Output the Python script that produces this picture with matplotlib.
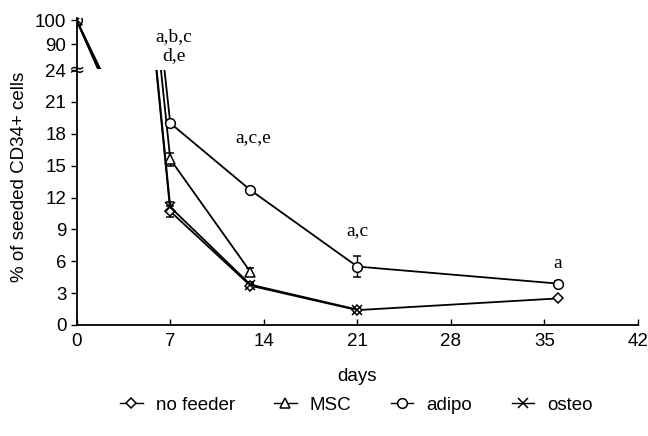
import matplotlib.pyplot as plt
from matplotlib.lines import Line2D

plt.rcParams['font.family'] = ['Liberation Sans', 'DejaVu Sans']

days = [0, 7, 13, 21, 36]
no_feeder = [100, 10.7, 3.7, 1.4, 2.5]
no_feeder_err = [0, 0.5, 0.2, 0.2, 0.1]
msc = [100, 15.6, 5.0]
msc_err = [0, 0.6, 0.4]
adipo = [100, 19.0, 12.7, 5.5, 3.9]
adipo_err = [0, 0.3, 0.2, 1.0, 0.2]
osteo = [100, 11.1, 3.8, 1.45]
osteo_err = [0, 0.5, 0.2, 0.1]

labels = ['no feeder', 'MSC', 'adipo', 'osteo']
markers = ['D', '^', 'o', 'x']
msizes = [5, 7, 7, 7]

series = [(no_feeder, no_feeder_err), (msc, msc_err), (adipo, adipo_err), (osteo, osteo_err)]

# significance letters: (day, y, text)
notes_low = [(13.2, 17.6, 'a,c,e'), (21, 8.9, 'a,c'), (36, 5.8, 'a')]
notes_top = [(7.3, 93.2, 'a,b,c'), (7.3, 85.2, 'd,e')]

fig = plt.figure(figsize=(6.48, 4.36), dpi=100)
ax = fig.add_axes([0.1184, 0.2546, 0.866, 0.5848])
ax_top = fig.add_axes([0.1184, 0.8417, 0.866, 0.117])

for a in (ax, ax_top):
    for (vals, err), m, ms in zip(series, markers, msizes):
        a.errorbar(days[:len(vals)], vals, yerr=err, color='black', lw=1.3,
                   marker=m, ms=ms, mfc='white', mec='black', mew=1.1,
                   ecolor='black', elinewidth=1, capsize=3)
    a.set_xlim(0, 42)
    a.spines['top'].set_visible(False)
    a.spines['right'].set_visible(False)

ax.set_ylim(0, 24)
ax.set_yticks(range(0, 25, 3))
ax.set_xticks(range(0, 43, 7))
ax.tick_params(axis='y', labelsize=13.5, direction='out', length=4, width=1)
ax.tick_params(axis='x', labelsize=13.5, direction='in', length=4, width=1, pad=6)
ax.spines['left'].set_linewidth(1.3)
ax.spines['bottom'].set_linewidth(1.3)
ax.set_xlabel('days', fontsize=13.5, labelpad=13)

ax_top.set_ylim(79.6, 101)
ax_top.set_yticks([90, 100])
ax_top.spines['bottom'].set_visible(False)
ax_top.spines['left'].set_linewidth(1.3)
ax_top.set_xticks([])
ax_top.tick_params(labelsize=13.5, direction='out', length=4, width=1)
ax_top.patch.set_alpha(0)

ax.text(0, 1.0, '≈', transform=ax.transAxes, ha='center', va='center',
        fontsize=14, family='DejaVu Sans')

for x, y, t in notes_low:
    ax.text(x, y, t, ha='center', va='center', fontsize=14, family='Liberation Serif')
for x, y, t in notes_top:
    ax_top.text(x, y, t, ha='center', va='center', fontsize=14, family='Liberation Serif')

fig.text(0.03, 1 - 177 / 436, '% of seeded CD34+ cells', rotation=90,
         ha='center', va='center', fontsize=13.5)

handles = [Line2D([], [], color='black', lw=1, marker=m, ms=ms, mfc='white',
                  mec='black', mew=1.1) for m, ms in zip(markers, msizes)]
fig.legend(handles, labels, loc='center', bbox_to_anchor=(0.55, 0.07), ncol=4,
           frameon=False, fontsize=13.5, handlelength=1.2, columnspacing=2.1,
           handletextpad=0.7)

fig.savefig('out.png', dpi=100)
